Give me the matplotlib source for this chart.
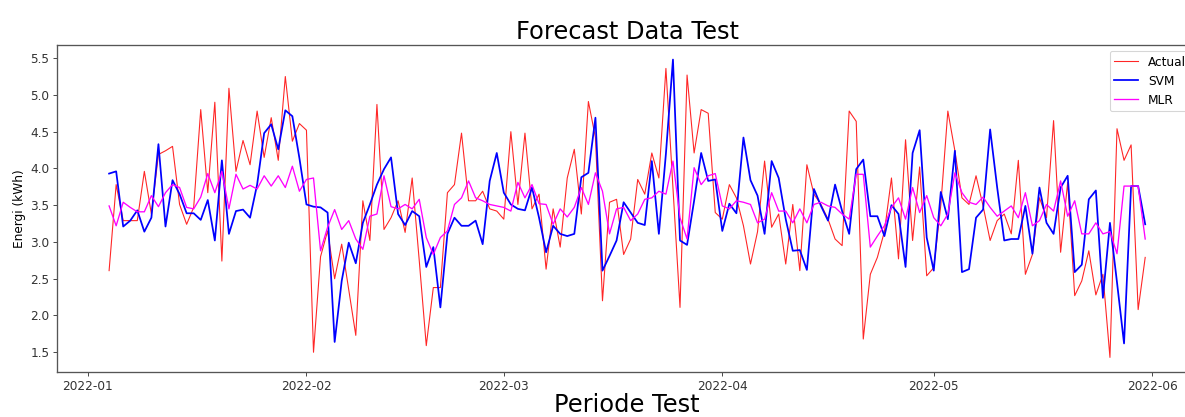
import matplotlib
matplotlib.use("Agg")
import matplotlib.pyplot as plt
import pandas as pd

dates = pd.date_range("2022-01-04", "2022-05-31", freq="D")

actual = [2.61, 3.78, 3.29, 3.29, 3.29, 3.96, 3.38, 4.19, 4.24, 4.30,
          3.51, 3.24, 3.47, 4.80, 3.67, 4.90, 2.74, 5.09, 3.96, 4.38,
          4.05, 4.78, 4.15, 4.69, 4.11, 5.25, 4.37, 4.61, 4.52, 1.50,
          2.80, 3.15, 2.50, 2.97, 2.35, 1.73, 3.56, 3.02, 4.87, 3.17,
          3.33, 3.56, 3.13, 3.87, 2.75, 1.59, 2.38, 2.38, 3.67, 3.78,
          4.48, 3.56, 3.56, 3.69, 3.45, 3.42, 3.31, 4.50, 3.51, 4.48,
          3.45, 3.65, 2.63, 3.45, 2.93, 3.87, 4.26, 3.38, 4.91, 4.42,
          2.20, 3.54, 3.58, 2.83, 3.04, 3.85, 3.65, 4.21, 3.87, 5.36,
          3.74, 2.11, 5.27, 4.21, 4.80, 4.75, 3.40, 3.31, 3.78, 3.60,
          3.22, 2.70, 3.14, 4.10, 3.20, 3.38, 2.70, 3.51, 2.61, 4.05,
          3.65, 3.51, 3.31, 3.04, 2.95, 4.78, 4.64, 1.68, 2.56, 2.79,
          3.14, 3.87, 2.77, 4.39, 3.02, 4.02, 2.54, 2.65, 3.50, 4.78,
          4.24, 3.60, 3.51, 3.90, 3.49, 3.02, 3.29, 3.38, 3.11, 4.11,
          2.56, 2.83, 3.60, 3.33, 4.65, 2.86, 3.81, 2.27, 2.47, 2.88,
          2.28, 2.56, 1.43, 4.54, 4.11, 4.32, 2.08, 2.79]

svm = [3.93, 3.96, 3.21, 3.29, 3.43, 3.14, 3.33, 4.33, 3.21, 3.84,
       3.65, 3.39, 3.39, 3.30, 3.57, 3.02, 4.11, 3.11, 3.42, 3.44,
       3.33, 3.78, 4.48, 4.60, 4.26, 4.79, 4.71, 4.14, 3.51, 3.48,
       3.47, 3.40, 1.64, 2.47, 2.99, 2.71, 3.26, 3.51, 3.78, 3.99,
       4.15, 3.38, 3.23, 3.42, 3.35, 2.66, 2.93, 2.11, 3.11, 3.33,
       3.22, 3.22, 3.29, 2.97, 3.83, 4.21, 3.67, 3.51, 3.45, 3.43,
       3.74, 3.33, 2.86, 3.22, 3.11, 3.08, 3.11, 3.88, 3.94, 4.69,
       2.61, 2.81, 3.02, 3.54, 3.40, 3.26, 3.23, 4.10, 3.11, 4.20,
       5.48, 3.02, 2.96, 3.56, 4.21, 3.83, 3.85, 3.15, 3.52, 3.39,
       4.42, 3.84, 3.63, 3.11, 4.10, 3.87, 3.31, 2.88, 2.89, 2.62,
       3.72, 3.49, 3.29, 3.78, 3.42, 3.11, 3.99, 4.12, 3.35, 3.35,
       3.08, 3.50, 3.38, 2.66, 4.21, 4.52, 3.06, 2.61, 3.68, 3.31,
       4.24, 2.59, 2.63, 3.33, 3.44, 4.53, 3.74, 3.02, 3.04, 3.04,
       3.49, 2.84, 3.74, 3.26, 3.11, 3.74, 3.90, 2.59, 2.69, 3.58,
       3.70, 2.24, 3.26, 2.45, 1.62, 3.76, 3.76, 3.24]

mlr = [3.49, 3.22, 3.54, 3.47, 3.41, 3.41, 3.63, 3.48, 3.67, 3.78,
       3.74, 3.47, 3.45, 3.61, 3.93, 3.67, 3.96, 3.45, 3.92, 3.72,
       3.77, 3.72, 3.90, 3.76, 3.90, 3.74, 4.03, 3.69, 3.85, 3.87,
       2.88, 3.20, 3.44, 3.17, 3.29, 3.04, 2.90, 3.35, 3.38, 3.90,
       3.48, 3.45, 3.51, 3.45, 3.58, 3.06, 2.83, 3.06, 3.15, 3.51,
       3.60, 3.83, 3.60, 3.56, 3.51, 3.49, 3.47, 3.42, 3.81, 3.60,
       3.78, 3.52, 3.51, 3.24, 3.45, 3.34, 3.47, 3.74, 3.51, 3.94,
       3.69, 3.11, 3.45, 3.47, 3.29, 3.38, 3.58, 3.60, 3.69, 3.65,
       4.10, 3.33, 3.04, 4.01, 3.78, 3.90, 3.93, 3.49, 3.45, 3.56,
       3.54, 3.51, 3.26, 3.31, 3.67, 3.42, 3.42, 3.26, 3.45, 3.26,
       3.51, 3.54, 3.49, 3.47, 3.38, 3.31, 3.92, 3.92, 2.93, 3.08,
       3.22, 3.47, 3.60, 3.31, 3.74, 3.40, 3.63, 3.33, 3.22, 3.38,
       3.94, 3.67, 3.54, 3.51, 3.61, 3.47, 3.35, 3.42, 3.49, 3.33,
       3.67, 3.22, 3.29, 3.51, 3.42, 3.83, 3.35, 3.56, 3.11, 3.11,
       3.26, 3.11, 3.14, 2.84, 3.76, 3.76, 3.76, 3.04]

labels = ["Actual", "SVM", "MLR"]

fig = plt.figure(figsize=(15, 417 / 79), dpi=79)
ax = fig.add_axes([57.3 / 1185, (417 - 372.3) / 417,
                   (1197 - 57.3) / 1185, (372.3 - 44.7) / 417])

ax.plot(dates, actual, color="red", lw=1.0, alpha=0.85, label=labels[0])
ax.plot(dates, svm, color="blue", lw=1.6, label=labels[1])
ax.plot(dates, mlr, color="magenta", lw=1.2, label=labels[2])

ax.set_title("Forecast Data Test", fontsize=22, pad=5)
ax.set_xlabel("Periode Test", fontsize=22, labelpad=0)
ax.set_ylabel("Energi (kWh)", fontsize=11)
ax.tick_params(labelsize=11, colors="#333333")
for s in ax.spines.values():
    s.set_color("#555555")
    s.set_linewidth(1.2)
ax.legend(loc="upper right", fontsize=11)

fig.savefig("out.png", dpi=79)
